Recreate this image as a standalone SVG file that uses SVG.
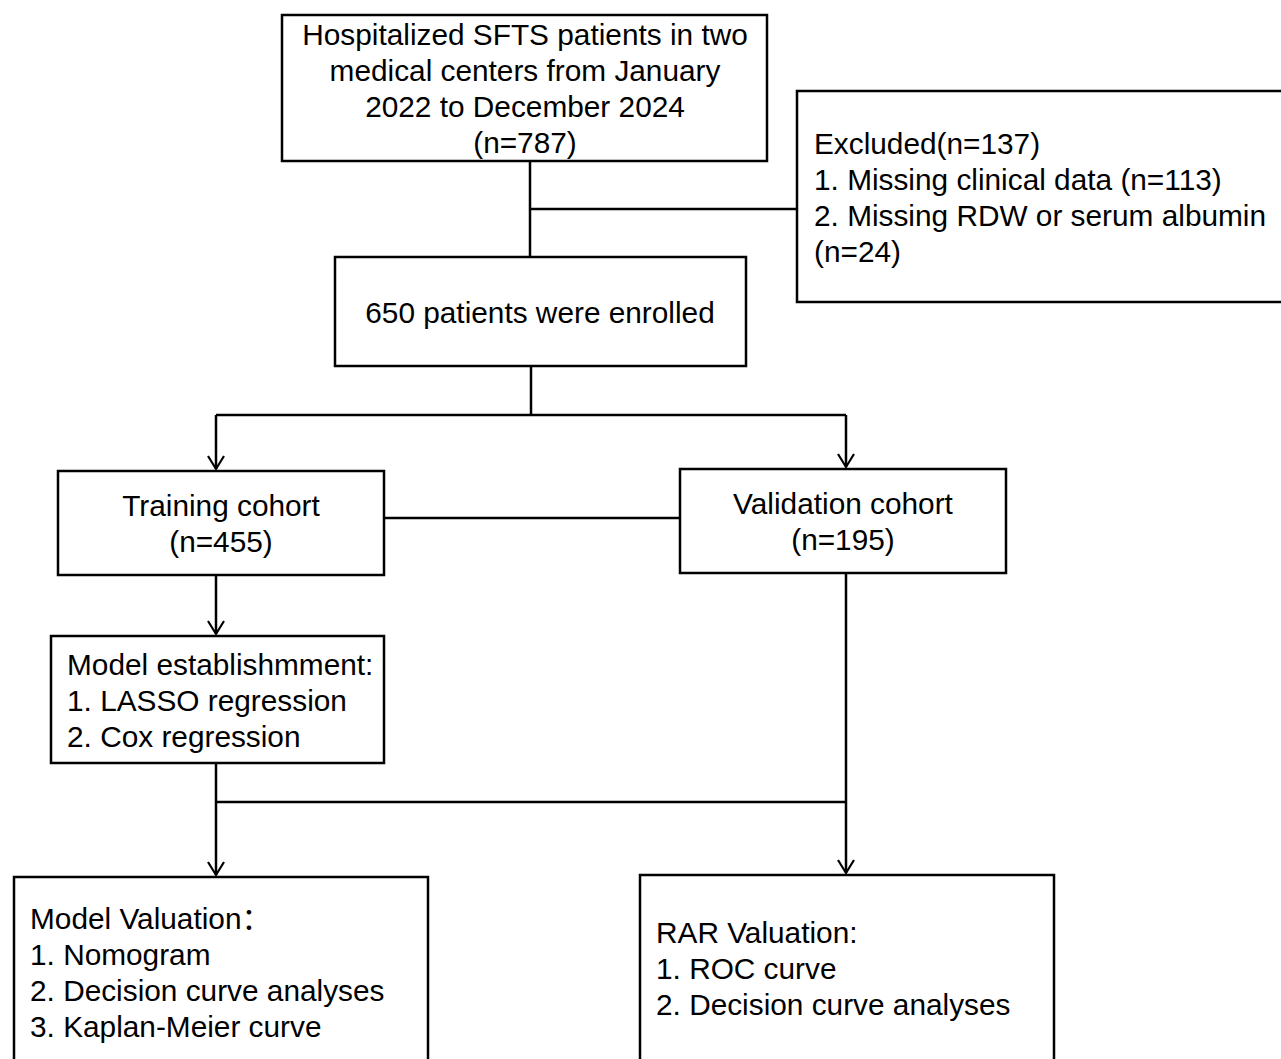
<svg xmlns="http://www.w3.org/2000/svg" width="1281" height="1059" viewBox="0 0 1281 1059">
<style>
.box{fill:#fff;stroke:#000;stroke-width:2.5}
.t{font-family:"Liberation Sans","Noto Sans CJK SC",Arial,sans-serif;font-size:29.8px;fill:#000}
.c{text-anchor:middle}
.ln{fill:none;stroke:#000;stroke-width:2.5}
</style>
<defs>
<marker id="arr" markerWidth="20" markerHeight="20" refX="16" refY="10" orient="auto" markerUnits="userSpaceOnUse" viewBox="0 0 20 20">
<path d="M3,2 L16,10 L3,18" fill="none" stroke="#000" stroke-width="2.2"/>
</marker>
</defs>
<rect width="1281" height="1059" fill="#fff"/>
<g id="connectors">
<path class="ln" d="M530,161 V257"/>
<path class="ln" d="M530,209 H797"/>
<path class="ln" d="M531,366 V415"/>
<path class="ln" d="M216,415 H846"/>
<path class="ln" d="M216,415 V469" marker-end="url(#arr)"/>
<path class="ln" d="M846,415 V467" marker-end="url(#arr)"/>
<path class="ln" d="M384,518 H680"/>
<path class="ln" d="M216,575 V634" marker-end="url(#arr)"/>
<path class="ln" d="M216,763 V875" marker-end="url(#arr)"/>
<path class="ln" d="M216,802 H846"/>
<path class="ln" d="M846,573 V873" marker-end="url(#arr)"/>
</g>
<g id="n-source">
<rect class="box" x="282" y="15" width="485" height="146"/>
<text class="t c" x="525" y="45">Hospitalized SFTS patients in two</text>
<text class="t c" x="525" y="81">medical centers from January</text>
<text class="t c" x="525" y="117">2022 to December 2024</text>
<text class="t c" x="525" y="153">(n=787)</text>
</g>
<g id="n-excluded">
<rect class="box" x="797" y="91" width="490" height="211"/>
<text class="t" x="814" y="154">Excluded(n=137)</text>
<text class="t" x="814" y="190">1. Missing clinical data (n=113)</text>
<text class="t" x="814" y="226">2. Missing RDW or serum albumin</text>
<text class="t" x="814" y="262">(n=24)</text>
</g>
<g id="n-enrolled">
<rect class="box" x="335" y="257" width="411" height="109"/>
<text class="t c" x="540" y="323">650 patients were enrolled</text>
</g>
<g id="n-training">
<rect class="box" x="58" y="471" width="326" height="104"/>
<text class="t c" x="221" y="516">Training cohort</text>
<text class="t c" x="221" y="552">(n=455)</text>
</g>
<g id="n-validation">
<rect class="box" x="680" y="469" width="326" height="104"/>
<text class="t c" x="843" y="514">Validation cohort</text>
<text class="t c" x="843" y="550">(n=195)</text>
</g>
<g id="n-model">
<rect class="box" x="51" y="636" width="333" height="127"/>
<text class="t" x="67" y="675">Model establishmment:</text>
<text class="t" x="67" y="711">1. LASSO regression</text>
<text class="t" x="67" y="747">2. Cox regression</text>
</g>
<g id="n-modelval">
<rect class="box" x="14" y="877" width="414" height="200"/>
<text class="t" x="30" y="929">Model Valuation：</text>
<text class="t" x="30" y="965">1. Nomogram</text>
<text class="t" x="30" y="1001">2. Decision curve analyses</text>
<text class="t" x="30" y="1037">3. Kaplan-Meier curve</text>
</g>
<g id="n-rarval">
<rect class="box" x="640" y="875" width="414" height="200"/>
<text class="t" x="656" y="943">RAR Valuation:</text>
<text class="t" x="656" y="979">1. ROC curve</text>
<text class="t" x="656" y="1015">2. Decision curve analyses</text>
</g>
</svg>
